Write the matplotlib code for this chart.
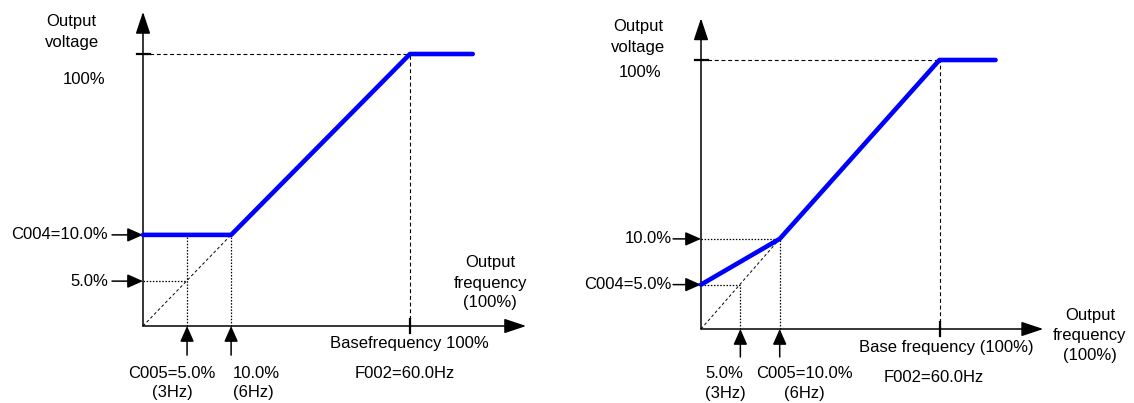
import matplotlib
matplotlib.use("Agg")
import matplotlib.pyplot as plt

plt.rcParams['font.family'] = ['Liberation Sans', 'DejaVu Sans']

# ---- schematic values (axis units: origin = 0, base frequency / 100 % voltage = 100) ----
f_3hz = 16.5        # 3 Hz  (5 % of base)
f_6hz = 33.0        # 6 Hz  (10 % of base)
f_base = 100.0      # base frequency
f_end = 123.5       # end of the flat 100 % segment
v_5 = 16.5          # 5 % voltage
v_10 = 33.5         # 10 % voltage
v_100 = 100.0       # 100 % voltage
x_axis_end = 143.5
y_axis_end = 115.5

# left panel: C004 = 10 %, C005 = 5 %
left_curve_f = [0.0, f_6hz, f_base, f_end]
left_curve_v = [v_10, v_10, v_100, v_100]
# right panel: C004 = 5 %, C005 = 10 %
right_curve_f = [0.0, f_6hz, f_base, f_end]
right_curve_v = [v_5, v_10, v_100, v_100]

left_ylabels = ["C004=10.0%", "5.0%"]
left_xlabels = [("C005=5.0%", "(3Hz)"), ("10.0%", "(6Hz)")]
left_base_label = "Basefrequency 100%"
right_ylabels = ["10.0%", "C004=5.0%"]
right_xlabels = [("5.0%", "(3Hz)"), ("C005=10.0%", "(6Hz)")]
right_base_label = "Base frequency (100%)"
f002_label = "F002=60.0Hz"

FS = 12
BLUE = "#0000FF"

fig = plt.figure(figsize=(11.34, 4.03), dpi=100)


def axis_arrow(ax, start, tip, small=False):
    if small:
        style = "-|>,head_length=0.95,head_width=0.42"
    else:
        style = "-|>,head_length=1.35,head_width=0.45"
    ax.annotate("", xy=tip, xytext=start,
                arrowprops=dict(arrowstyle=style, mutation_scale=10,
                                lw=1.1, color="black", shrinkA=0, shrinkB=0),
                zorder=5)


def panel(ax, curve_f, curve_v, ylabels, ylevels, xlabels, base_label, layout):
    sx, sy = layout["sx"], layout["sy"]
    ax.set_axis_off()
    # main axes with arrows
    axis_arrow(ax, (0, 0), (0, y_axis_end))
    axis_arrow(ax, (0, 0), (x_axis_end, 0))
    # ticks at 100% and base frequency
    ax.plot([-6.5 / sx, 6.5 / sx], [v_100, v_100], color="black", lw=1.6, zorder=4)
    ax.plot([f_base, f_base], [-7 / sy, 7 / sy], color="black", lw=1.6, zorder=4)
    # dashed guides to 100 %
    dash = dict(color="black", lw=0.8, linestyle=(0, (3.5, 2.5)))
    ax.plot([0, f_base], [v_100, v_100], **dash, zorder=2)
    ax.plot([f_base, f_base], [0, v_100], **dash, zorder=2)
    # diagonal (linear V/f) reference line
    ax.plot([0, f_6hz], [0, v_10], color="black", lw=0.7,
            linestyle=(0, (3, 2.5)), zorder=2)
    # dotted guides
    dot = dict(color="black", lw=0.9, linestyle=(0, (1.2, 1.3)), zorder=2)
    for fx, vy in layout["dot_v"]:
        ax.plot([fx, fx], [0, vy], **dot)
    for fx, vy in layout["dot_h"]:
        ax.plot([0, fx], [vy, vy], **dot)
    # V/f curve
    ax.plot(curve_f, curve_v, color=BLUE, lw=3.3, solid_capstyle="round",
            solid_joinstyle="round", zorder=6)
    # pointer arrows on y axis
    for lab, lv in zip(ylabels, ylevels):
        axis_arrow(ax, (-layout["ptr_len_x"], lv), (0, lv), small=True)
        ax.text(layout["ylab_x"], lv, lab, ha="right", va="center", fontsize=FS)
    # pointer arrows on x axis
    for (l1, l2), fx, (tx1, tx2) in zip(xlabels, [f_3hz, f_6hz], layout["xlab_x"]):
        axis_arrow(ax, (fx, -layout["ptr_len_y"]), (fx, 0), small=True)
        ax.text(tx1, layout["xlab_y"][0], l1, ha="center", va="center", fontsize=FS)
        ax.text(tx2, layout["xlab_y"][1], l2, ha="center", va="center", fontsize=FS)
    # axis titles
    for txt, (tx, ty) in zip(["Output", "voltage"], layout["vtitle"]):
        ax.text(tx, ty, txt, ha="center", va="center", fontsize=FS)
    ax.text(layout["p100"][0], layout["p100"][1], "100%", ha="center", va="center", fontsize=FS)
    for txt, ty in zip(["Output", "frequency", "(100%)"], layout["ftitle_y"]):
        ax.text(layout["ftitle_x"], ty, txt, ha="center", va="center", fontsize=FS)
    ax.text(layout["base_lab"][0], layout["base_lab"][1], base_label,
            ha="center", va="center", fontsize=FS)
    ax.text(layout["f002"][0], layout["f002"][1], f002_label,
            ha="center", va="center", fontsize=FS)


# left panel: pixel mapping origin (143, 326), 2.67 px / unit in x, 2.72 px / unit in y
axL = fig.add_axes([0, 0, 0.5, 1])
axL.set_xlim(-143 / 2.67, (567 - 143) / 2.67)
axL.set_ylim((326 - 403) / 2.72, 326 / 2.72)
panel(axL, left_curve_f, left_curve_v, left_ylabels, [v_10, v_5], left_xlabels,
      left_base_label,
      dict(sx=2.67, sy=2.72,
           dot_v=[(f_3hz, v_10), (f_6hz, v_10)],
           dot_h=[(f_3hz, v_5)],
           ptr_len_x=11.6, ptr_len_y=10.7,
           ylab_x=-13.1,
           xlab_x=[(10.9, 10.9), (42.3, 41.2)],
           xlab_y=(-17.3, -24.6),
           vtitle=[(-27.0, 112.1), (-26.6, 104.4)],
           p100=(-22.0, 90.8),
           ftitle_x=130.0, ftitle_y=[23.5, 15.8, 8.5],
           base_lab=(99.6, -6.6),
           f002=(98.1, -17.3)))

# right panel: pixel mapping origin (701, 329), 2.385 px / unit in x, 2.69 px / unit in y
axR = fig.add_axes([0.5, 0, 0.5, 1])
axR.set_xlim((567 - 701) / 2.385, (1134 - 701) / 2.385)
axR.set_ylim((329 - 403) / 2.69, 329 / 2.69)
panel(axR, right_curve_f, right_curve_v, right_ylabels, [v_10, v_5], right_xlabels,
      right_base_label,
      dict(sx=2.385, sy=2.69,
           dot_v=[(f_3hz, v_5), (f_6hz, v_10)],
           dot_h=[(f_3hz, v_5), (f_6hz, v_10)],
           ptr_len_x=11.7, ptr_len_y=10.4,
           ylab_x=-12.2,
           xlab_x=[(9.6, 10.1), (43.2, 43.2)],
           xlab_y=(-16.4, -23.8),
           vtitle=[(-26.4, 112.3), (-26.4, 104.5)],
           p100=(-25.6, 95.2),
           ftitle_x=163.1, ftitle_y=[5.2, -2.6, -10.0],
           base_lab=(102.7, -6.7),
           f002=(97.7, -18.2)))

fig.savefig("out.png", dpi=100)
